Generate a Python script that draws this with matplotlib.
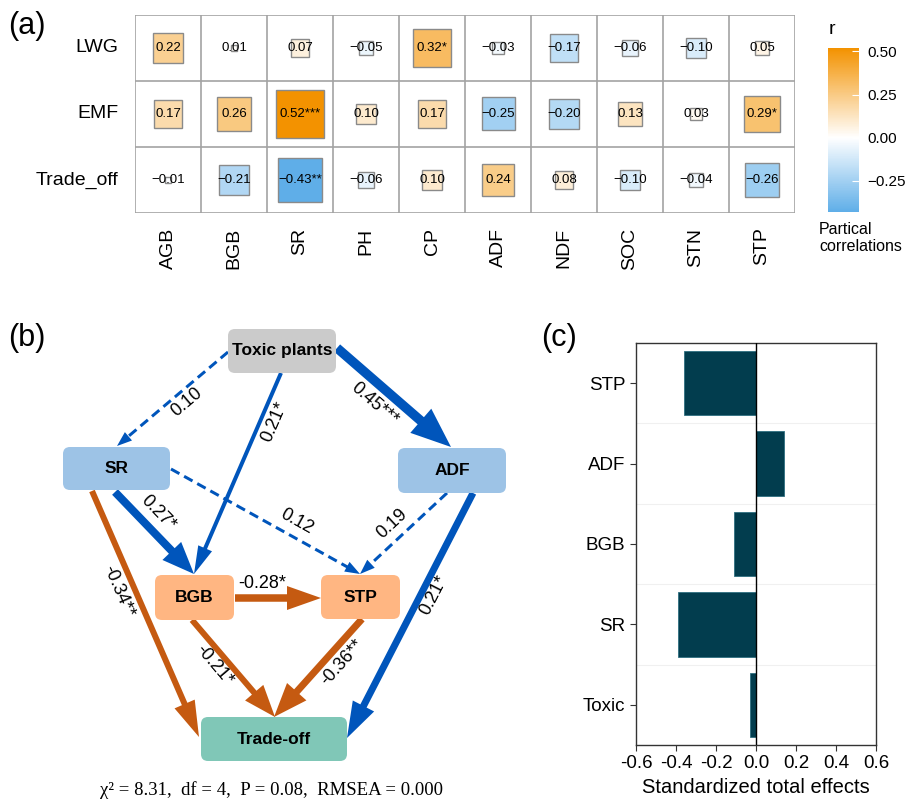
import numpy as np
import matplotlib
matplotlib.use('Agg')
import matplotlib.pyplot as plt
from matplotlib.patches import Rectangle, FancyBboxPatch, Polygon
from matplotlib.colors import LinearSegmentedColormap, Normalize
from matplotlib.colorbar import ColorbarBase

plt.rcParams['font.family'] = ['Liberation Sans', 'DejaVu Sans']

# (a) partial correlations
rows = ['LWG', 'EMF', 'Trade_off']
cols = ['AGB', 'BGB', 'SR', 'PH', 'CP', 'ADF', 'NDF', 'SOC', 'STN', 'STP']
r_lwg = [0.22, 0.01, 0.07, -0.05, 0.32, -0.03, -0.17, -0.06, -0.10, 0.05]
r_emf = [0.17, 0.26, 0.52, 0.10, 0.17, -0.25, -0.20, 0.13, 0.03, 0.29]
r_trade = [-0.01, -0.21, -0.43, -0.06, 0.10, 0.24, 0.08, -0.10, -0.04, -0.26]
sig_lwg = ['', '', '', '', '*', '', '', '', '', '']
sig_emf = ['', '', '***', '', '', '', '', '', '', '*']
sig_trade = ['', '', '**', '', '', '', '', '', '', '']
r_min, r_max = -0.43, 0.52

# (b) SEM nodes and paths
nodes = ['Toxic plants', 'SR', 'ADF', 'BGB', 'STP', 'Trade-off']
paths = [('Toxic plants', 'SR', '0.10'), ('Toxic plants', 'BGB', '0.21*'),
         ('Toxic plants', 'ADF', '0.45***'), ('SR', 'BGB', '0.27*'),
         ('SR', 'STP', '0.12'), ('ADF', 'STP', '0.19'),
         ('SR', 'Trade-off', '-0.34**'), ('ADF', 'Trade-off', '0.21*'),
         ('BGB', 'STP', '-0.28*'), ('BGB', 'Trade-off', '-0.21*'),
         ('STP', 'Trade-off', '-0.36**')]
significant = [False, True, True, True, False, False, True, True, True, True, True]
fit_text = 'χ² = 8.31,  df = 4,  P = 0.08,  RMSEA = 0.000'

# (c) standardized total effects
effect_names = ['STP', 'ADF', 'BGB', 'SR', 'Toxic']
effect_values = [-0.36, 0.14, -0.11, -0.39, -0.03]

W, H = 907, 805
fig = plt.figure(figsize=(W / 100, H / 100), dpi=100)


def px_axes(x0, y0, x1, y1):
    return fig.add_axes([x0 / W, 1 - y1 / H, (x1 - x0) / W, (y1 - y0) / H])


# ---- (a) ----
mid = (0 - r_min) / (r_max - r_min)
cmap = LinearSegmentedColormap.from_list('r', [(0, '#5FAEE8'), (mid, '#FFFFFF'), (1, '#F39200')])
norm = Normalize(r_min, r_max)

ax_a = px_axes(135, 15, 795, 213)
ax_a.set_xlim(0, 10)
ax_a.set_ylim(3, 0)
ax_a.axis('off')
ax_a.hlines(range(4), 0, 10, color='#a3a3a3', lw=1.2)
ax_a.vlines(range(11), 0, 3, color='#a3a3a3', lw=1.2)

values = [r_lwg, r_emf, r_trade]
stars = [sig_lwg, sig_emf, sig_trade]
for i in range(3):
    for j in range(10):
        r = values[i][j]
        s = np.sqrt(abs(r))
        ax_a.add_patch(Rectangle((j + 0.5 - s / 2, i + 0.5 - s / 2), s, s,
                                 fc=cmap(norm(r)), ec='#8a8a8a', lw=1))
        lab = f'{r:.2f}'.replace('-', '−') + stars[i][j]
        ax_a.text(j + 0.5, i + 0.5, lab, ha='center', va='center', fontsize=9.5)
for i, name in enumerate(rows):
    ax_a.text(-0.25, i + 0.5, name, ha='right', va='center', fontsize=14)
for j, name in enumerate(cols):
    ax_a.text(j + 0.5, 3.22, name, ha='center', va='top', rotation=90, fontsize=14)

cax = px_axes(828, 48, 859, 212)
cb = ColorbarBase(cax, cmap=cmap, norm=norm, orientation='vertical')
cb.outline.set_visible(False)
cb.set_ticks([0.5, 0.25, 0.0, -0.25])
cb.set_ticklabels(['0.50', '0.25', '0.00', '−0.25'])
cax.tick_params(direction='in', color='white', length=5, width=0.8, labelsize=11, pad=6)
fig.text(829 / W, 1 - 29 / H, 'r', ha='left', va='center', fontsize=14)
fig.text(819 / W, 1 - 222 / H, 'Partical\ncorrelations', ha='left', va='top',
         fontsize=11.5, linespacing=1.15)

fig.text(8 / W, 1 - 26 / H, '(a)', ha='left', va='center', fontsize=22)
fig.text(8 / W, 1 - 338 / H, '(b)', ha='left', va='center', fontsize=22)
fig.text(541 / W, 1 - 338 / H, '(c)', ha='left', va='center', fontsize=22)

# ---- (b) ----
ax_b = px_axes(0, 310, 540, 805)
ax_b.set_xlim(0, 540)
ax_b.set_ylim(805, 310)
ax_b.axis('off')

box = {'Toxic plants': (228, 329, 336, 373, '#CBCBCB'),
       'SR': (63, 447, 170, 490, '#9DC3E6'),
       'ADF': (398, 448, 506, 493, '#9DC3E6'),
       'BGB': (155, 575, 234, 620, '#FFB682'),
       'STP': (321, 575, 400, 619, '#FFB682'),
       'Trade-off': (201, 717, 347, 761, '#80C7B7')}
for name in nodes:
    x0, y0, x1, y1, c = box[name]
    ax_b.add_patch(FancyBboxPatch((x0, y0), x1 - x0, y1 - y0,
                                  boxstyle='round,pad=0,rounding_size=7',
                                  fc=c, ec='none', zorder=3))
    ax_b.text((x0 + x1) / 2, (y0 + y1) / 2, name, ha='center', va='center',
              fontsize=12.5, fontweight='bold', zorder=4)

# start, end, shaft width (px), head length, head width, label position
geometry = [((228, 352), (117, 446), 3.0, 15, 11, (187, 402)),
            ((281, 373), (194, 574), 4.0, 28, 15, (274, 422)),
            ((337, 348), (451, 447), 9.5, 40, 32, (374, 404)),
            ((115, 492), (194, 574), 8.0, 32, 26, (158, 513)),
            ((171, 469), (360, 574), 3.0, 15, 11, (297, 522)),
            ((447, 493), (360, 574), 3.0, 15, 11, (392, 524)),
            ((92, 491), (199, 737), 6.0, 36, 22, (118, 591)),
            ((473, 493), (347, 738), 7.0, 36, 24, (434, 595)),
            ((235, 598), (321, 598), 7.5, 34, 24, (262, 583)),
            ((192, 620), (275, 717), 6.0, 32, 24, (214, 665)),
            ((362, 619), (274, 717), 7.0, 34, 26, (342, 662))]

blue, orange = '#0055BB', '#C55A11'
for (src, dst, lab), sig, (p0, p1, w, hl, hw, lp) in zip(paths, significant, geometry):
    coef = float(lab.rstrip('*'))
    color = blue if coef > 0 else orange
    p0 = np.array(p0, float)
    p1 = np.array(p1, float)
    u = (p1 - p0) / np.linalg.norm(p1 - p0)
    n = np.array([-u[1], u[0]])
    base = p1 - u * hl
    ls = '-' if sig else (0, (3.2, 1.8))
    ax_b.plot([p0[0], base[0] + u[0] * 2], [p0[1], base[1] + u[1] * 2], color=color,
              lw=w * 0.72, ls=ls, solid_capstyle='butt', dash_capstyle='butt', zorder=2)
    ax_b.add_patch(Polygon([p1, base + n * hw / 2, base - n * hw / 2],
                           closed=True, fc=color, ec='none', zorder=2))
    ang = np.degrees(np.arctan2(-(p1[1] - p0[1]), p1[0] - p0[0]))
    if ang > 90:
        ang -= 180
    elif ang <= -90:
        ang += 180
    ax_b.text(lp[0], lp[1], lab, ha='center', va='center', rotation=ang,
              rotation_mode='anchor', fontsize=13, zorder=5)

ax_b.text(271, 790, fit_text, ha='center', va='center', fontsize=13.5,
          family=['Liberation Serif', 'DejaVu Serif'])

# ---- (c) ----
ax_c = px_axes(636, 343, 876, 745)
ypos = np.arange(len(effect_names))[::-1]
ax_c.barh(ypos, effect_values, height=0.8, color='#023D4E', edgecolor='#2E6F80', lw=0.6, zorder=3)
ax_c.axvline(0, color='black', lw=1, zorder=4)
for yb in np.arange(0.5, len(effect_names) - 0.5, 1):
    ax_c.axhline(yb, color='#f0f0f0', lw=0.8, zorder=1)
ax_c.set_xlim(-0.6, 0.6)
ax_c.set_ylim(-0.5, len(effect_names) - 0.5)
ticks = np.round(np.arange(-0.6, 0.61, 0.2), 1)
ax_c.set_xticks(ticks)
ax_c.set_xticklabels([f'{t:.1f}' for t in ticks])
ax_c.set_yticks(ypos)
ax_c.set_yticklabels(effect_names)
ax_c.tick_params(labelsize=13.5, length=4, width=0.8, color='#333333')
for sp in ax_c.spines.values():
    sp.set_color('#333333')
    sp.set_linewidth(1)
ax_c.set_xlabel('Standardized total effects', fontsize=14.5, labelpad=4)

fig.savefig('out.png', dpi=100)
